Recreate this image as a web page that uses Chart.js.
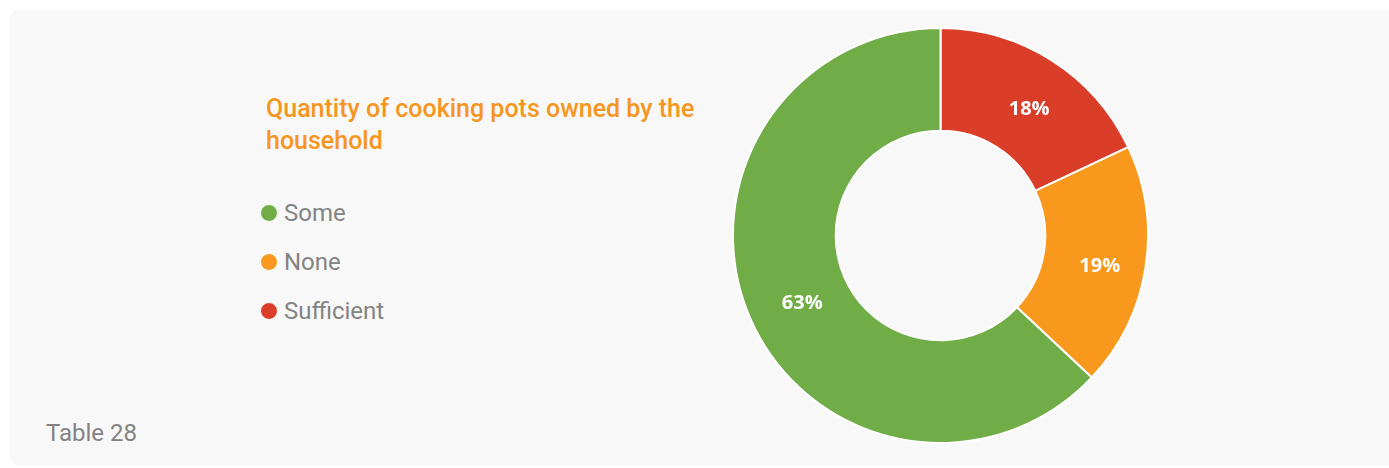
<!DOCTYPE html>
<html>
<head>
<meta charset="utf-8">
<script src="https://cdn.jsdelivr.net/npm/chart.js@4.4.1/dist/chart.umd.min.js"></script>
<style>
  html, body { margin: 0; padding: 0; background: #fff; }
  body { width: 1389px; height: 468px; position: relative; overflow: hidden; font-family: Roboto, "Noto Sans", sans-serif; }
  .card { position: absolute; left: 10px; top: 10px; width: 1390px; height: 455px; background: #f8f8f8; border-radius: 8px; }
  .title { position: absolute; left: 266px; top: 93px; width: 480px; color: #f7961e; font-size: 25px; font-weight: 500; line-height: 32px; }
  .legend { position: absolute; left: 260px; top: 188px; }
  .legend .row { display: flex; align-items: center; height: 49px; font-size: 24px; color: #838383; }
  .legend .dot { width: 16px; height: 16px; border-radius: 50%; border: 1.5px solid #fff; margin-right: 6px; box-sizing: content-box; }
  .foot { position: absolute; left: 46px; top: 419px; font-size: 24px; color: #838383; }
  #pie { position: absolute; left: 732px; top: 27px; }
</style>
</head>
<body>
<div class="card"></div>
<div class="title" id="title"></div>
<div class="legend" id="legend"></div>
<div class="foot">Table 28</div>
<canvas id="pie" width="417" height="417"></canvas>
<script>
const chartTitle = "Quantity of cooking pots owned by the household";
// slices go clockwise from 12 o'clock
const labels = ["Sufficient", "None", "Some"];
const values = [18, 19, 63];
const colors = ["#da3e28", "#f8991d", "#70ad47"];
const legendOrder = ["Some", "None", "Sufficient"];

document.getElementById("title").textContent = chartTitle;

const legend = document.getElementById("legend");
legendOrder.forEach(name => {
  const i = labels.indexOf(name);
  const row = document.createElement("div");
  row.className = "row";
  const dot = document.createElement("span");
  dot.className = "dot";
  dot.style.background = colors[i];
  const txt = document.createElement("span");
  txt.textContent = name;
  row.appendChild(dot);
  row.appendChild(txt);
  legend.appendChild(row);
});

// percentage text in the middle of every slice
const sliceLabels = {
  id: "sliceLabels",
  afterDatasetsDraw(chart) {
    const ctx = chart.ctx;
    const meta = chart.getDatasetMeta(0);
    const total = values.reduce((a, b) => a + b, 0);
    ctx.save();
    ctx.fillStyle = "#fff";
    ctx.font = "bold 20px 'Open Sans'";
    ctx.textAlign = "center";
    ctx.textBaseline = "middle";
    meta.data.forEach((arc, i) => {
      const p = arc.tooltipPosition();
      ctx.fillText(Math.round(values[i] / total * 100) + "%", p.x + 5, p.y + 6);
    });
    ctx.restore();
  }
};

new Chart(document.getElementById("pie"), {
  type: "doughnut",
  data: {
    labels: labels,
    datasets: [{
      data: values,
      backgroundColor: colors,
      borderColor: "#fff",
      borderWidth: 2,
      hoverOffset: 0
    }]
  },
  options: {
    responsive: false,
    animation: false,
    cutout: "50.5%",
    layout: { padding: 0 },
    plugins: {
      legend: { display: false },
      tooltip: { enabled: false }
    }
  },
  plugins: [sliceLabels]
});
</script>
</body>
</html>
